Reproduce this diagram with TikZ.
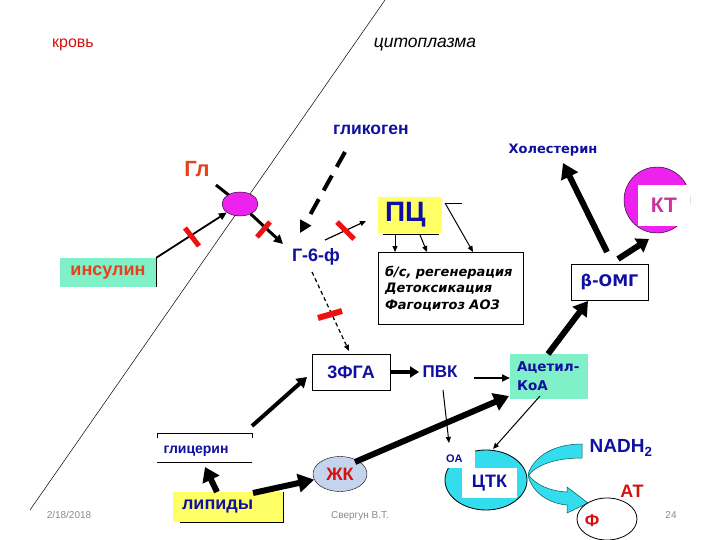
\documentclass[tikz,border=0pt]{standalone}
\usepackage{fontspec}
\setmainfont{Liberation Sans}
\newfontfamily\dv{DejaVu Sans}
\usetikzlibrary{arrows.meta,shapes.geometric}
\newcommand\fsz[2]{\fontsize{#1}{#2}\selectfont}
\definecolor{bl}{HTML}{1010A0}
\definecolor{rd}{HTML}{D41010}
\definecolor{og}{HTML}{E8401C}
\definecolor{mg}{HTML}{EE22EE}
\definecolor{mint}{HTML}{80F0C8}
\definecolor{ylw}{HTML}{FFFF66}
\definecolor{cy}{HTML}{33DDEE}
\definecolor{jkc}{HTML}{C4D4EC}
\definecolor{gr}{HTML}{8A8A8A}
\definecolor{ktc}{HTML}{CC3399}
\definecolor{redbar}{HTML}{EE1111}
\begin{document}
\begin{tikzpicture}[x=1pt,y=-1pt,
  thickarr/.style={line width=6pt,-{Triangle[length=15pt,width=18pt]}},
  medarr/.style={line width=4pt,-{Triangle[length=10pt,width=12pt]}},
  thinarr/.style={line width=1pt,-{Triangle[length=6pt,width=5pt]}},
  redmark/.style={line width=5pt,redbar},
  framed/.style={draw,line width=0.8pt,fill=white,inner sep=0pt}]
\useasboundingbox (0,0) rectangle (720,540);
\fill[white] (0,0) rectangle (720,540);

% membrane
\draw[line width=0.5pt] (385,0) -- (30,510);

% texts
\node[text=rd,font=\fsz{16}{19}] (krov) at (73,45) {кровь};
\node[font=\itshape\fsz{17.5}{20}] (cyto) at (425,45) {цитоплазма};
\node[text=bl,font=\bfseries\fsz{17.5}{20}] (glyc) at (371,130) {гликоген};
\node[text=bl,font=\dv\bfseries\fsz{13}{16}] (chol) at (553,150) {Холестерин};
\node[text=og,font=\bfseries\fsz{22}{26}] (gltxt) at (197,169) {Гл};

% glucose transporter
\coordinate (stub) at (216,185);
\draw[line width=3pt] (stub) -- (240,204);
\node[ellipse,draw,fill=mg,minimum width=36pt,minimum height=24pt,inner sep=0pt] (gl) at (240,204) {};

% insulin
\node[fill=mint,minimum width=96pt,minimum height=29pt,inner sep=0pt,text=og,font=\bfseries\fsz{18}{21}] (ins) at (108,272.5) {инсулин};
\draw[line width=0.8pt] (ins.north east) -- (ins.south east);
\draw[line width=1.8pt,-{Triangle[length=8pt,width=7pt]}] (ins.north east) -- (gl);
\draw[redmark] (185,228) -- (199,246);

% G-6-P
\node[text=bl,font=\bfseries\fsz{18}{21}] (g6f) at (316,257) {Г-6-ф};
\coordinate (g6in) at (283,244);
\draw[line width=3pt,-{Triangle[length=9pt,width=9pt]}] (gl) -- (g6in);
\draw[redmark] (257,237) -- (270,222);

\coordinate (glycout) at (345,152);
\coordinate (g6top) at (300,233);
\draw[line width=4pt,dash pattern=on 17pt off 10pt,-{Triangle[length=12pt,width=12pt]}] (glycout) -- (g6top);

% PC
\node[fill=ylw,text width=50pt,inner xsep=7pt,inner ysep=0pt,minimum height=36pt,align=left,text=bl,font=\bfseries\fsz{28}{32}] (pc) at (410,215) {ПЦ};
\coordinate (g6r) at (325,240);
\coordinate (pcin) at (366,221);
\draw[line width=1.2pt,-{Triangle[length=6pt,width=5pt]}] (g6r) -- (pcin);
\draw[redmark] (337,222) -- (354,239);

% process box
\node[framed,text width=131pt,inner xsep=7pt,minimum height=72pt,align=left,font=\dv\bfseries\itshape\fsz{13}{16.5}] (proc) at (450.5,288.5) {б/с, регенерация\\Детоксикация\\Фагоцитоз АОЗ};
\coordinate (pcb1) at (383,234);
\coordinate (pcb2) at (439,234);
\draw[line width=0.8pt] (pcb1) -- (pcb2);
\coordinate (pca1) at (395,234);
\coordinate (pca1e) at (395,252);
\coordinate (pca2) at (420,235);
\coordinate (pca2e) at (427,252);
\coordinate (pcr1) at (445,203);
\coordinate (pcr2) at (462,203);
\coordinate (pca3e) at (473,252);
\draw[thinarr] (pca1) -- (pca1e);
\draw[thinarr] (pca2) -- (pca2e);
\draw[line width=0.8pt] (pcr2) -- (pcr1);
\draw[thinarr] (pcr1) -- (pca3e);

% beta-OMG and KT
\node[framed,minimum width=77pt,minimum height=36pt,text=bl,font=\dv\bfseries\fsz{16}{19}] (bomg) at (609.5,282) {β-ОМГ};
\node[circle,draw,fill=mg,minimum size=66pt,inner sep=0pt] (ktc) at (657,200) {};
\node[fill=white,minimum width=52pt,minimum height=41pt,inner sep=0pt,text=ktc,font=\bfseries\fsz{21}{24}] (kt) at (664,205.5) {КТ};
\coordinate (bo1) at (607,252);
\coordinate (cholin) at (563,163);
\draw[thickarr] (bo1) -- (cholin);
\coordinate (bo2) at (618,259);
\coordinate (ktin) at (649,239);
\draw[line width=6pt,-{Triangle[length=12pt,width=16pt]}] (bo2) -- (ktin);

% 3PGA, PVK
\node[framed,minimum width=78pt,minimum height=36pt,text=bl,font=\bfseries\fsz{18}{21}] (fga) at (351,372) {3ФГА};
\node[text=bl,font=\bfseries\fsz{17}{20}] (pvk) at (440,372) {ПВК};
\coordinate (g6b) at (312,272);
\coordinate (fgain) at (349,351);
\draw[line width=1.2pt,dash pattern=on 4pt off 3pt,-{Triangle[length=6pt,width=5pt]}] (g6b) -- (fgain);
\draw[redmark,line width=6pt] (318,318) -- (342,311);
\draw[line width=4pt,-{Triangle[length=9pt,width=11pt]}] (fga.east) -- (pvk.west);

% acetyl-CoA
\node[fill=mint,text width=64pt,inner xsep=7pt,inner ysep=0pt,minimum height=45pt,align=left,text=bl,font=\dv\bfseries\fsz{13.5}{19}] (acoa) at (549,376.5) {Ацетил-\\КоА};
\coordinate (pvkr) at (474,378);
\coordinate (acoal) at (510,378);
\draw[line width=2pt,-{Triangle[length=8pt,width=7pt]}] (pvkr) -- (acoal);
\coordinate (acoat) at (548,354);
\coordinate (bomgin) at (588,301);
\draw[line width=6pt,-{Triangle[length=14pt,width=17pt]}] (acoat) -- (bomgin);

% glycerol, lipids, FA
\node[text=bl,font=\bfseries\fsz{14}{17}] (glyr) at (196,451) {глицерин};
\draw[line width=0.8pt] (157,438) -- (157,433) -- (252,433) -- (252,438);
\draw[line width=0.8pt] (157,462) -- (252,462);
\node[fill=ylw,text width=100pt,inner xsep=5pt,inner ysep=0pt,minimum height=30pt,align=left,text=bl,font=\bfseries\fsz{18}{21}] (lip) at (228,507) {\hspace*{4pt}липиды};
\draw[line width=1pt] (lip.north east) -- (lip.south east) -- ++(-103,0);
\node[ellipse,draw,fill=jkc,minimum width=54pt,minimum height=35pt,inner sep=0pt,text=rd,font=\bfseries\fsz{18}{21}] (jk) at (340,474) {ЖК};

\coordinate (glyrt) at (252,426);
\coordinate (fgal) at (307,377);
\draw[medarr] (glyrt) -- (fgal);
\coordinate (lipt) at (217,492);
\coordinate (glyrb) at (205,467);
\draw[line width=6pt,-{Triangle[length=14pt,width=18pt]}] (lipt) -- (glyrb);
\coordinate (lipr) at (253,493);
\draw[line width=6pt,-{Triangle[length=16pt,width=18pt]}] (lipr) -- (jk);
\coordinate (jkr) at (355,462);
\coordinate (acoab) at (509,396);
\draw[thickarr] (jkr) -- (acoab);

% TCA
\node[ellipse,draw,line width=0.8pt,fill=cy,minimum width=82pt,minimum height=60pt,inner sep=0pt] (tca) at (486,480) {};
\node[fill=white,anchor=north west,minimum width=30pt,minimum height=18pt,text width=28pt,inner xsep=1pt,inner ysep=0pt,align=left,text=bl,font=\bfseries\fsz{11}{13}] (oa) at (445,450) {ОА};
\node[fill=white,minimum width=55pt,minimum height=30pt,inner sep=0pt,text=bl,font=\bfseries\fsz{18}{21}] (tcat) at (489.5,483) {ЦТК};
\coordinate (pvkb) at (443,390);
\coordinate (oain) at (449,443);
\draw[thinarr] (pvkb) -- (oain);
\coordinate (acoabl) at (540,396);
\coordinate (tcain) at (493,449);
\draw[thinarr] (acoabl) -- (tcain);

% curved cyan arrow
\fill[cy,draw=teal!70!black,line width=0.5pt]
  (582,444) .. controls (555,444) and (535,455) .. (528,474)
  .. controls (535,485) and (550,491) .. (567,492)
  -- (567,487) -- (588,503) -- (567,513) -- (567,505)
  .. controls (545,503) and (532,490) .. (528,476)
  .. controls (536,465) and (555,458) .. (582,458) -- cycle;

\node[text=bl,font=\bfseries\fsz{19}{22}] (nadh) at (621,448) {NADH\textsubscript{2}};
\node[ellipse,draw,line width=0.8pt,fill=white,minimum width=60pt,minimum height=42pt,inner sep=0pt] (phe) at (607,519) {};
\node[text=rd,font=\bfseries\fsz{18}{21}] (at) at (632,491) {АТ};
\node[text=rd,font=\bfseries\fsz{17}{20}] (ph) at (592,521) {Ф};

% footer
\node[text=gr,font=\fsz{10}{12}] (date) at (69,515) {2/18/2018};
\node[text=gr,font=\fsz{10}{12}] (auth) at (360,516) {Свергун В.Т.};
\node[text=gr,font=\fsz{10}{12}] (pg) at (671,515) {24};
\end{tikzpicture}
\end{document}
